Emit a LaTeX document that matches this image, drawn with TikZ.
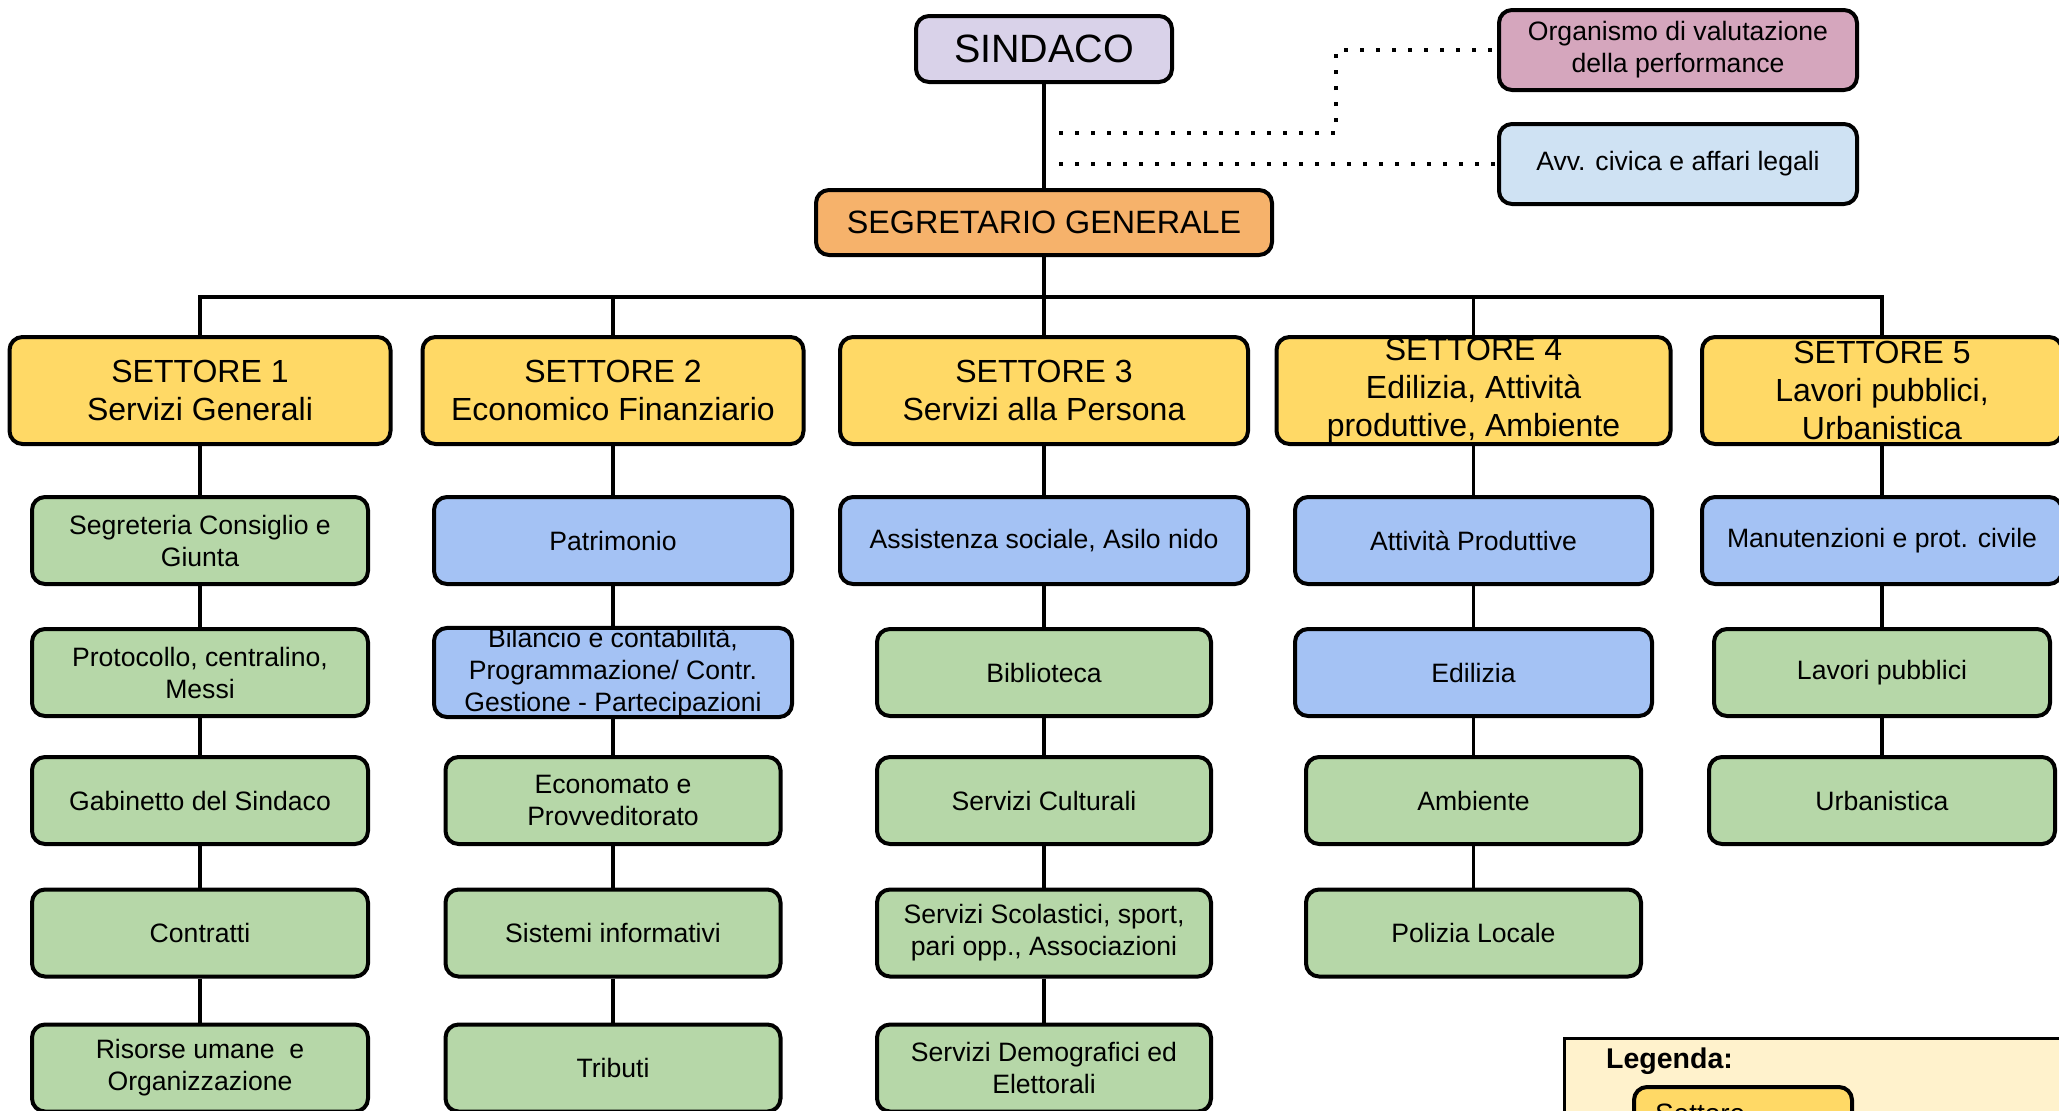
\documentclass[tikz,border=0pt]{standalone}
\usepackage{fontspec}
\setmainfont{Liberation Sans}
\definecolor{cSind}{HTML}{D9D2E9}
\definecolor{cSeg}{HTML}{F6B26B}
\definecolor{cOrg}{HTML}{D5A6BD}
\definecolor{cAvv}{HTML}{CFE2F3}
\definecolor{cSet}{HTML}{FFD966}
\definecolor{cGreen}{HTML}{B6D7A8}
\definecolor{cBlue}{HTML}{A4C2F4}
\definecolor{cLeg}{HTML}{FFF2CC}
\begin{document}
\begin{tikzpicture}[x=1pt,y=-1pt,
  box/.style={draw=black, line width=4pt, rounded corners=13pt, align=center, inner sep=0pt, text=black},
  settbox/.style={box, fill=cSet, minimum height=107pt, font=\fontsize{32}{38}\selectfont},
  subbox/.style={box, minimum height=87pt, font=\fontsize{26.6}{32}\selectfont},
  gbox/.style={subbox, fill=cGreen},
  bbox/.style={subbox, fill=cBlue},
  conn/.style={line width=3.5pt, line join=miter},
  dotline/.style={line width=4pt, dash pattern=on 4pt off 12pt}
]
\useasboundingbox (0,0) rectangle (2059,1111);
\clip (0,0) rectangle (2059,1111);
\fill[white] (0,0) rectangle (2059,1111);

% top
\node[box, fill=cSind, minimum width=256pt, minimum height=66pt, font=\fontsize{39.5}{45}\selectfont] (sind) at (1044,49) {SINDACO};
\node[box, fill=cSeg, minimum width=456pt, minimum height=65pt, font=\fontsize{32.3}{38}\selectfont] (seg) at (1044,222.5) {SEGRETARIO GENERALE};
\node[box, fill=cOrg, minimum width=358pt, minimum height=80pt, font=\fontsize{26.6}{32}\selectfont] (org) at (1678,50) {Organismo di valutazione\\della performance};
\node[box, fill=cAvv, minimum width=358pt, minimum height=80pt, font=\fontsize{26.6}{32}\selectfont] (avv) at (1678,164) {Avv. civica e affari legali};

% settori
\node[settbox, minimum width=381pt] (s1) at (200,390.5) {SETTORE 1\\Servizi Generali};
\node[settbox, minimum width=381pt] (s2) at (613,390.5) {SETTORE 2\\Economico Finanziario};
\node[settbox, minimum width=408pt] (s3) at (1044,390.5) {SETTORE 3\\Servizi alla Persona};
\node[settbox, minimum width=394pt] (s4) at (1473.5,390.5) {SETTORE 4\\Edilizia, Attivit\`a\\produttive, Ambiente};
\node[settbox, minimum width=360pt] (s5) at (1882,390.5) {SETTORE 5\\Lavori pubblici,\\Urbanistica};

% column 1
\node[gbox, minimum width=336pt] (a1) at (200,540.5) {Segreteria Consiglio e\\Giunta};
\node[gbox, minimum width=336pt] (b1) at (200,672.5) {Protocollo, centralino,\\Messi};
\node[gbox, minimum width=336pt] (c1) at (200,800.5) {Gabinetto del Sindaco};
\node[gbox, minimum width=336pt] (d1) at (200,933) {Contratti};
\node[gbox, minimum width=336pt] (e1) at (200,1068) {Risorse umane~ e\\Organizzazione};

% column 2
\node[bbox, minimum width=358pt] (a2) at (613,540.5) {Patrimonio};
\node[bbox, minimum width=358pt] (b2) at (613,672.5) {Bilancio e contabilit\`a,\\Programmazione/ Contr.\\Gestione - Partecipazioni};
\node[gbox, minimum width=335pt] (c2) at (613,800.5) {Economato e\\Provveditorato};
\node[gbox, minimum width=335pt] (d2) at (613,933) {Sistemi informativi};
\node[gbox, minimum width=335pt] (e2) at (613,1068) {Tributi};

% column 3
\node[bbox, minimum width=408pt] (a3) at (1044,540.5) {Assistenza sociale, Asilo nido};
\node[gbox, minimum width=334pt] (b3) at (1044,672.5) {Biblioteca};
\node[gbox, minimum width=334pt] (c3) at (1044,800.5) {Servizi Culturali};
\node[gbox, minimum width=334pt] (d3) at (1044,933) {Servizi Scolastici, sport,\\pari opp., Associazioni};
\node[gbox, minimum width=334pt] (e3) at (1044,1068) {Servizi Demografici ed\\Elettorali};

% column 4
\node[bbox, minimum width=357pt] (a4) at (1473.5,540.5) {Attivit\`a Produttive};
\node[bbox, minimum width=357pt] (b4) at (1473.5,672.5) {Edilizia};
\node[gbox, minimum width=335pt] (c4) at (1473.5,800.5) {Ambiente};
\node[gbox, minimum width=335pt] (d4) at (1473.5,933) {Polizia Locale};

% column 5
\node[bbox, minimum width=360pt] (a5) at (1882,540.5) {Manutenzioni e prot. civile};
\node[gbox, minimum width=336pt] (b5) at (1882,672.5) {Lavori pubblici};
\node[gbox, minimum width=346pt] (c5) at (1882,800.5) {Urbanistica};

% connectors
\coordinate (bus) at (1044,297);
\draw[conn] (sind) -- (seg);
\draw[conn] (seg) -- (s3);
\draw[conn] (s1.north) -- (s1.north |- bus) -- (s5.north |- bus) -- (s5.north);
\draw[conn] (s2.north) -- (s2.north |- bus);
\draw[conn] (s4.north) -- (s4.north |- bus);
\draw[conn] (s1) -- (a1) -- (b1) -- (c1) -- (d1) -- (e1);
\draw[conn] (s2) -- (a2) -- (b2) -- (c2) -- (d2) -- (e2);
\draw[conn] (s3) -- (a3) -- (b3) -- (c3) -- (d3) -- (e3);
\draw[conn] (s4) -- (a4) -- (b4) -- (c4) -- (d4);
\draw[conn] (s5) -- (a5) -- (b5) -- (c5);

% dotted
\coordinate (p1) at (1059,133);
\coordinate (k1) at (1336,50);
\coordinate (p2) at (1059,164);
\draw[dotline] (p1) -| (k1) -- (org.west);
\draw[dotline] (p2) -- (avv.west);

% legend
\node[draw=black, line width=3pt, fill=cLeg, anchor=north west, minimum width=700pt, minimum height=300pt, inner sep=0pt] (leg) at (1563,1037) {};
\node[anchor=base west, inner sep=0pt, font=\bfseries\fontsize{28.5}{34}\selectfont] (legt) at (1606,1068) {Legenda:};
\node[box, fill=cSet, anchor=north west, minimum width=218pt, minimum height=54pt, text width=176pt, align=left, inner xsep=21pt, font=\fontsize{28}{34}\selectfont] (legs) at (1632,1085) {Settore};
\end{tikzpicture}
\end{document}
